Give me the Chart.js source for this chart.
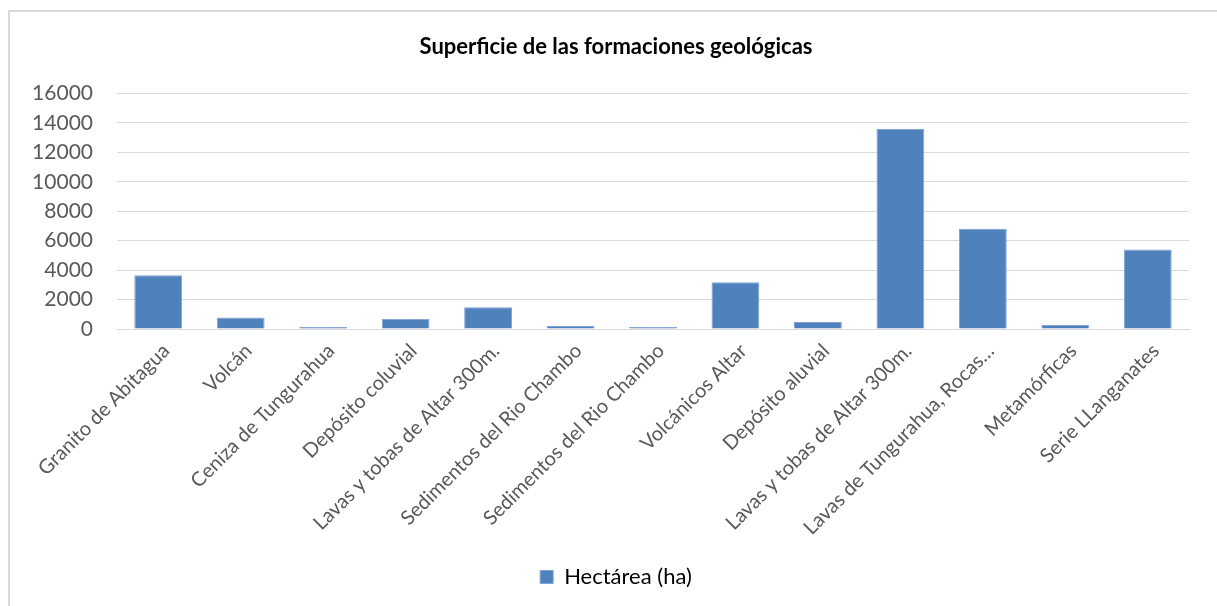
<!DOCTYPE html>
<html>
<head>
<meta charset="utf-8">
<script src="https://cdn.jsdelivr.net/npm/chart.js@4"></script>
<style>
  html, body { margin: 0; padding: 0; background: #fff; }
  #wrap { position: relative; width: 1217px; height: 606px; overflow: hidden; }
  #frame { position: absolute; left: 8px; top: 10px; width: 1230px; height: 620px; border: 2px solid #d9d9d9; box-sizing: border-box; }
  canvas { position: absolute; left: 0; top: 0; }
</style>
</head>
<body>
<div id="wrap">
  <div id="frame"></div>
  <canvas id="c" width="1217" height="606"></canvas>
</div>
<script>
const categories = [
  "Granito de Abitagua",
  "Volcán",
  "Ceniza de Tungurahua",
  "Depósito coluvial",
  "Lavas y tobas de Altar 300m.",
  "Sedimentos del Rio Chambo",
  "Sedimentos del Rio Chambo",
  "Volcánicos Altar",
  "Depósito aluvial",
  "Lavas y tobas de Altar 300m.",
  "Lavas de Tungurahua, Rocas…",
  "Metamórficas",
  "Serie LLanganates"
];
const hectareas = [3650, 780, 150, 690, 1470, 200, 150, 3170, 470, 13600, 6800, 270, 5400];
const seriesName = "Hectárea (ha)";
const chartTitle = "Superficie de las formaciones geológicas";
const yMin = 0, yMax = 16000, yStep = 2000;

const FONT = "Lato, 'Open Sans', sans-serif";

new Chart(document.getElementById('c'), {
  type: 'bar',
  data: {
    labels: categories,
    datasets: [{
      label: seriesName,
      data: hectareas,
      backgroundColor: '#4f81bd',
      borderColor: '#7fa3d2',
      borderWidth: 1,
      barPercentage: 1,
      categoryPercentage: 0.58,
      yAxisID: 'y'
    }]
  },
  options: {
    responsive: false,
    animation: false,
    layout: { padding: { left: 15, right: 0, top: 0, bottom: 8 } },
    plugins: {
      title: {
        display: true,
        text: chartTitle,
        color: '#000',
        font: { family: FONT, size: 22, weight: 'bold' },
        padding: { top: 34, bottom: 33 }
      },
      legend: {
        position: 'bottom',
        labels: {
          color: '#000',
          font: { family: FONT, size: 22 },
          boxWidth: 13,
          boxHeight: 13,
          padding: 9
        }
      },
      tooltip: { enabled: false }
    },
    scales: {
      x: {
        grid: { display: false },
        border: { display: true, color: '#d9d9d9', width: 1 },
        ticks: {
          color: '#595959',
          font: { family: FONT, size: 20 },
          minRotation: 45,
          maxRotation: 45,
          autoSkip: false,
          padding: 2,
          labelOffset: 8
        },
        afterFit: (s) => { s.height = 228; }
      },
      y: {
        min: yMin,
        max: yMax,
        grid: { color: '#d9d9d9', lineWidth: 1, drawTicks: false },
        border: { display: false },
        ticks: {
          stepSize: yStep,
          color: '#595959',
          font: { family: FONT, size: 21 },
          padding: 24,
          callback: (v) => String(v)
        },
        afterFit: (s) => { s.width = 102; }
      },
      yRight: {
        position: 'right',
        display: true,
        grid: { display: false, drawTicks: false },
        border: { display: false },
        ticks: { display: false },
        afterFit: (s) => { s.width = 28; }
      }
    }
  }
});
</script>
</body>
</html>
